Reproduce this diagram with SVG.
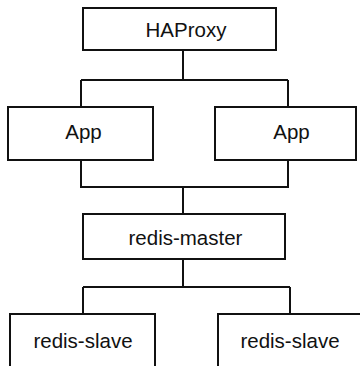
<svg xmlns="http://www.w3.org/2000/svg" width="360" height="366" viewBox="0 0 360 366">
<style>
.box{fill:#fff;stroke:#111;stroke-width:2}
.lbl{font-family:"Liberation Sans",Arial,sans-serif;font-size:20.5px;fill:#111;text-anchor:middle}
.con{fill:none;stroke:#111;stroke-width:2}
</style>
<rect width="360" height="366" fill="#fff"/>
<g id="connectors">
<path class="con" d="M183 50V80M81 80H288M81 80V107M288 80V107"/>
<path class="con" d="M81 160V187H288V160M183 187V214"/>
<path class="con" d="M183 259V287M83 287H290M83 287V314M290 287V314"/>
</g>
<g id="haproxy"><rect class="box" x="83" y="8" width="193" height="42"/><text class="lbl" x="186" y="37">HAProxy</text></g>
<g id="app1"><rect class="box" x="8" y="107" width="145" height="53"/><text class="lbl" x="83.5" y="139">App</text></g>
<g id="app2"><rect class="box" x="215" y="107" width="141" height="53"/><text class="lbl" x="291.5" y="139">App</text></g>
<g id="redis-master"><rect class="box" x="83" y="214" width="202" height="45"/><text class="lbl" x="185.5" y="245">redis-master</text></g>
<g id="redis-slave1"><rect class="box" x="10" y="314" width="145" height="60"/><text class="lbl" x="83" y="348">redis-slave</text></g>
<g id="redis-slave2"><rect class="box" x="218" y="314" width="145" height="60"/><text class="lbl" x="290" y="348">redis-slave</text></g>
</svg>
